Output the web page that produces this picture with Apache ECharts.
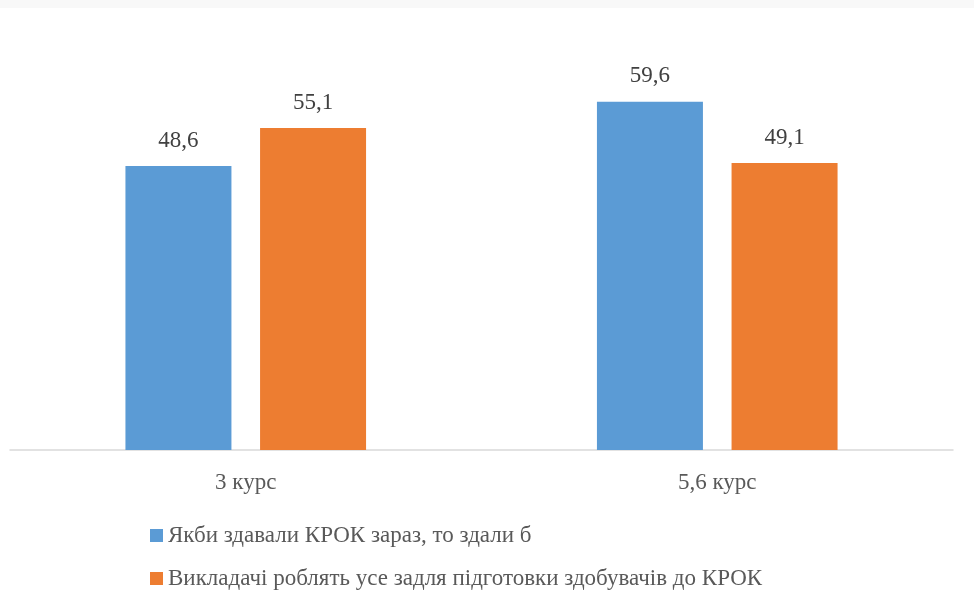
<!DOCTYPE html>
<html>
<head>
<meta charset="utf-8">
<script src="https://cdn.jsdelivr.net/npm/echarts@6/dist/echarts.min.js"></script>
<style>
  html, body { margin: 0; padding: 0; background: #fff; }
  #chart { width: 974px; height: 606px; }
</style>
</head>
<body>
<div id="chart"></div>
<script>
// дані з діаграми
const categories = ["3 курс", "5,6 курс"];
const seriesNames = [
  "Якби здавали КРОК зараз, то здали б",
  "Викладачі роблять усе задля підготовки здобувачів до КРОК"
];
const passNow = [48.6, 59.6];
const teachersDo = [55.1, 49.1];

const font = "Times New Roman, Liberation Serif, DejaVu Serif, serif";

let chart = echarts.init(document.getElementById("chart"));
chart.setOption({
  animation: false,
  backgroundColor: "#fff",
  graphic: [{
    type: "rect",
    left: 0, top: 0,
    shape: { width: 974, height: 8 },
    style: { fill: "#f8f8f8" },
    silent: true
  }],
  grid: {
    left: 10,
    right: 21,
    top: 41,
    bottom: 156
  },
  legend: {
    orient: "vertical",
    left: 145,
    top: 519,
    icon: "rect",
    itemWidth: 13,
    itemHeight: 13,
    itemGap: 20,
    textStyle: {
      fontFamily: font,
      fontSize: 23,
      color: "#595959"
    },
    data: seriesNames
  },
  xAxis: {
    type: "category",
    data: categories,
    axisLine: { show: true, lineStyle: { color: "#d9d9d9", width: 1.5 } },
    axisTick: { show: false },
    axisLabel: {
      margin: 21,
      fontFamily: font,
      fontSize: 23,
      color: "#595959"
    }
  },
  yAxis: {
    type: "value",
    min: 0,
    max: 70,
    show: false,
    splitLine: { show: false }
  },
  series: [
    {
      name: seriesNames[0],
      type: "bar",
      data: passNow,
      barWidth: 106,
      barGap: "27%",
      itemStyle: { color: "#5b9bd5" },
      label: {
        show: true,
        position: "top",
        distance: 14,
        fontFamily: font,
        fontSize: 23,
        color: "#404040",
        formatter: (p) => String(p.value).replace(".", ",")
      }
    },
    {
      name: seriesNames[1],
      type: "bar",
      data: teachersDo,
      barWidth: 106,
      barGap: "27%",
      itemStyle: { color: "#ed7d31" },
      label: {
        show: true,
        position: "top",
        distance: 14,
        fontFamily: font,
        fontSize: 23,
        color: "#404040",
        formatter: (p) => String(p.value).replace(".", ",")
      }
    }
  ]
});
window.addEventListener("resize", () => {
  chart.resize();
});
</script>
</body>
</html>
